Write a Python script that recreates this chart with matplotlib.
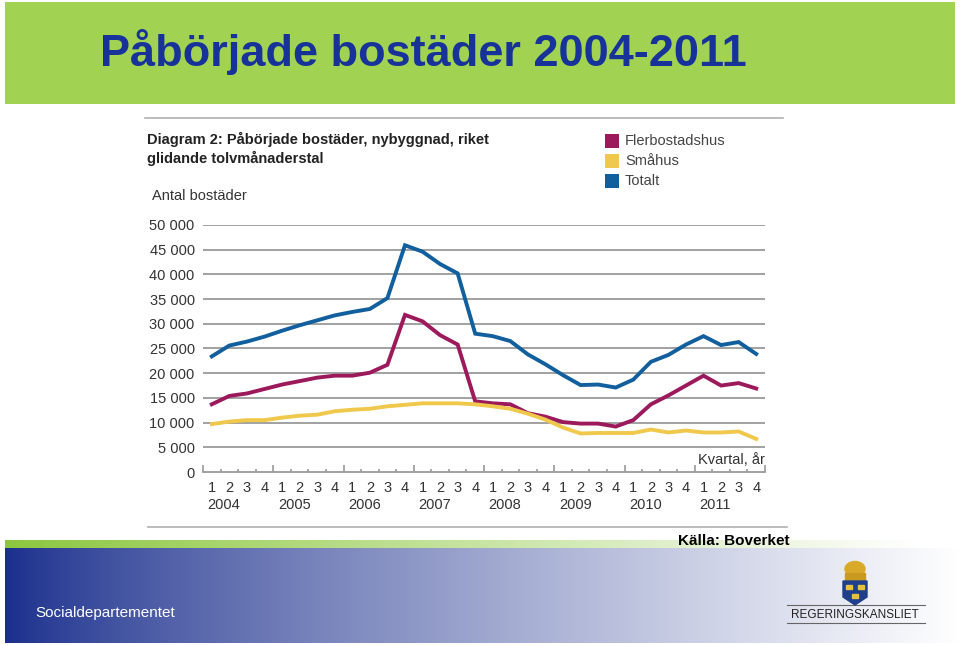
"""Påbörjade bostäder 2004-2011 -- slide with quarterly line chart."""
import matplotlib
matplotlib.use("Agg")
import matplotlib.pyplot as plt
import numpy as np
from matplotlib import font_manager
from matplotlib.patches import Rectangle, Polygon, Ellipse
from matplotlib.transforms import blended_transform_factory

# --- data (glidande tolvmånaderstal, antal bostäder) ---
years = ["2004", "2005", "2006", "2007", "2008", "2009", "2010", "2011"]
quarter_labels = ["1", "2", "3", "4"]

flerbostadshus = [13700, 15400, 15900, 16800, 17700, 18400, 19100, 19500,
                  19500, 20100, 21700, 31800, 30500, 27700, 25800, 14300,
                  13900, 13700, 11900, 11200, 10100, 9800, 9800, 9200,
                  10500, 13700, 15500, 17500, 19500, 17500, 18000, 16900]
smahus = [9700, 10200, 10500, 10500, 11000, 11400, 11600, 12300,
          12600, 12800, 13300, 13600, 13900, 13900, 13900, 13700,
          13300, 12800, 11800, 10600, 9000, 7800, 7900, 7900,
          7900, 8600, 8000, 8400, 8000, 8000, 8200, 6700]
totalt = [23400, 25600, 26400, 27400, 28600, 29700, 30700, 31700,
          32400, 33000, 35200, 45900, 44600, 42100, 40200, 28000,
          27500, 26500, 23800, 21800, 19600, 17600, 17700, 17100,
          18700, 22300, 23700, 25800, 27500, 25700, 26300, 23900]

series = [("Flerbostadshus", flerbostadshus, "#9c1a5c"),
          ("Småhus", smahus, "#efc84c"),
          ("Totalt", totalt, "#125f9e")]

W, H = 960, 645
installed = {f.name for f in font_manager.fontManager.ttflist}
narrow = "Liberation Sans Narrow" if "Liberation Sans Narrow" in installed else "Liberation Sans"
chart_font = "Liberation Sans"

fig = plt.figure(figsize=(W / 100, H / 100), dpi=100)

# background axes in pixel coordinates (origin top-left)
bg = fig.add_axes([0, 0, 1, 1])
bg.set_xlim(0, W)
bg.set_ylim(H, 0)
bg.axis("off")

# green header band + title
bg.add_patch(Rectangle((5, 2), 950, 102, color="#a1d251", lw=0))
bg.text(100, 52, "Påbörjade bostäder 2004-2011", family=narrow, weight="bold",
        size=38 if narrow != "Liberation Sans" else 32.5, color="#17339a",
        va="center", ha="left")

# thin rules above / below the chart
bg.plot([145, 783], [118, 118], color="#b0b0b0", lw=1.2)
bg.plot([148, 787], [527, 527], color="#b0b0b0", lw=1.2)

# chart heading
bg.text(147, 139, "Diagram 2: Påbörjade bostäder, nybyggnad, riket", family=chart_font,
        weight="bold", size=10.5, color="#222222", va="center")
bg.text(147, 158, "glidande tolvmånaderstal", family=chart_font,
        weight="bold", size=10.5, color="#222222", va="center")
bg.text(152, 196, "Antal bostäder", family=chart_font, size=10.5, color="#333333", va="center")

# legend
for i, (name, _, col) in enumerate(series):
    y = 141 + 20 * i
    bg.add_patch(Rectangle((605, y - 7), 14, 14, color=col, lw=0))
    bg.text(625, y, name, family=chart_font, size=10.5, color="#444444", va="center")

# bottom bands: thin green fade strip and blue gradient
green_grad = np.linspace(0, 1, 256)[None, :]
green_rgb = np.array([0.55, 0.78, 0.25])
strip = green_rgb[None, None, :] * (1 - green_grad[..., None]) + green_grad[..., None]
bg.imshow(strip, extent=(5, 920, 548, 540), aspect="auto", zorder=1)
t = np.linspace(0, 1, 512) ** 0.8
blue_rgb = np.array([0.10, 0.18, 0.55])
band = blue_rgb[None, None, :] * (1 - t[None, :, None]) + t[None, :, None]
bg.imshow(band, extent=(5, 960, 643, 548), aspect="auto", zorder=1)
bg.set_xlim(0, W)
bg.set_ylim(H, 0)

bg.text(35, 613, "Socialdepartementet", family=narrow, size=11, color="white", va="center")
bg.text(790, 541, "Källa: Boverket", family=narrow, weight="bold", size=11,
        color="black", va="center", ha="right", zorder=3)

# Regeringskansliet logo (simplified)
bg.add_patch(Ellipse((855, 569), 20, 15, color="#d9a92a", zorder=3))
bg.add_patch(Rectangle((845, 573), 20, 7, color="#c99a20", zorder=3))
bg.add_patch(Polygon([(843, 581), (867, 581), (867, 597), (855, 605), (843, 597)],
                     closed=True, color="#1f3e8c", zorder=3))
for cx, cy in [(849, 587), (861, 587), (855, 596)]:
    bg.add_patch(Rectangle((cx - 3, cy - 2), 6, 4, color="#e8c040", zorder=4))
bg.plot([787, 925], [605, 605], color="#666666", lw=0.8, zorder=2)
bg.plot([787, 925], [623, 623], color="#666666", lw=0.8, zorder=3)
bg.text(855, 615, "REGERINGSKANSLIET", family="Liberation Sans", size=8.5,
        color="#222222", ha="center", va="center", zorder=3)

# --- chart axes ---
x0, x1 = 203, 765
y_top, y_zero = 225, 472
ax = fig.add_axes([x0 / W, 1 - y_zero / H, (x1 - x0) / W, (y_zero - y_top) / H])
ax.patch.set_alpha(0)

x = np.arange(len(totalt))
for name, vals, col in series:
    ax.plot(x, vals, color=col, lw=2.8, solid_joinstyle="miter", zorder=3, clip_on=False)

ax.set_xlim(-0.5, len(x) - 0.5)
ax.set_ylim(0, 50000)
yt = np.arange(0, 50001, 5000)
ax.set_yticks(yt)
ax.set_yticklabels([f"{v:,}".replace(",", " ") for v in yt], family=chart_font,
                   size=10.5, color="#333333")
ax.tick_params(axis="y", length=0, pad=6)
for v in yt[1:]:
    ax.axhline(v, color="#9a9a9a", lw=1.3, zorder=1)

for s in ["top", "right", "left"]:
    ax.spines[s].set_visible(False)
ax.spines["bottom"].set_color("#9a9a9a")
ax.spines["bottom"].set_linewidth(1.3)

# boundary ticks pointing up: tall at year borders, short at quarter borders
ax.set_xticks(np.arange(-0.5, len(x), 4))
ax.set_xticks(np.arange(-0.5, len(x), 1), minor=True)
ax.set_xticklabels([])
ax.tick_params(axis="x", which="major", direction="in", length=5, width=1.2, color="#9a9a9a")
ax.tick_params(axis="x", which="minor", direction="in", length=2.5, width=1.2, color="#9a9a9a")

tr = blended_transform_factory(ax.transData, bg.transData)
for i in x:
    ax.text(i, 488, quarter_labels[i % 4], transform=tr, ha="center", va="center",
            family=chart_font, size=10.5, color="#333333")
for k, yr in enumerate(years):
    ax.text(4 * k - 0.23, 505, yr, transform=tr, ha="left", va="center",
            family=chart_font, size=10.5, color="#333333")
ax.text(1.0, 460, "Kvartal, år", transform=blended_transform_factory(ax.transAxes, bg.transData),
        ha="right", va="center", family=chart_font, size=10.5, color="#333333")

fig.savefig("out.png", dpi=100)
